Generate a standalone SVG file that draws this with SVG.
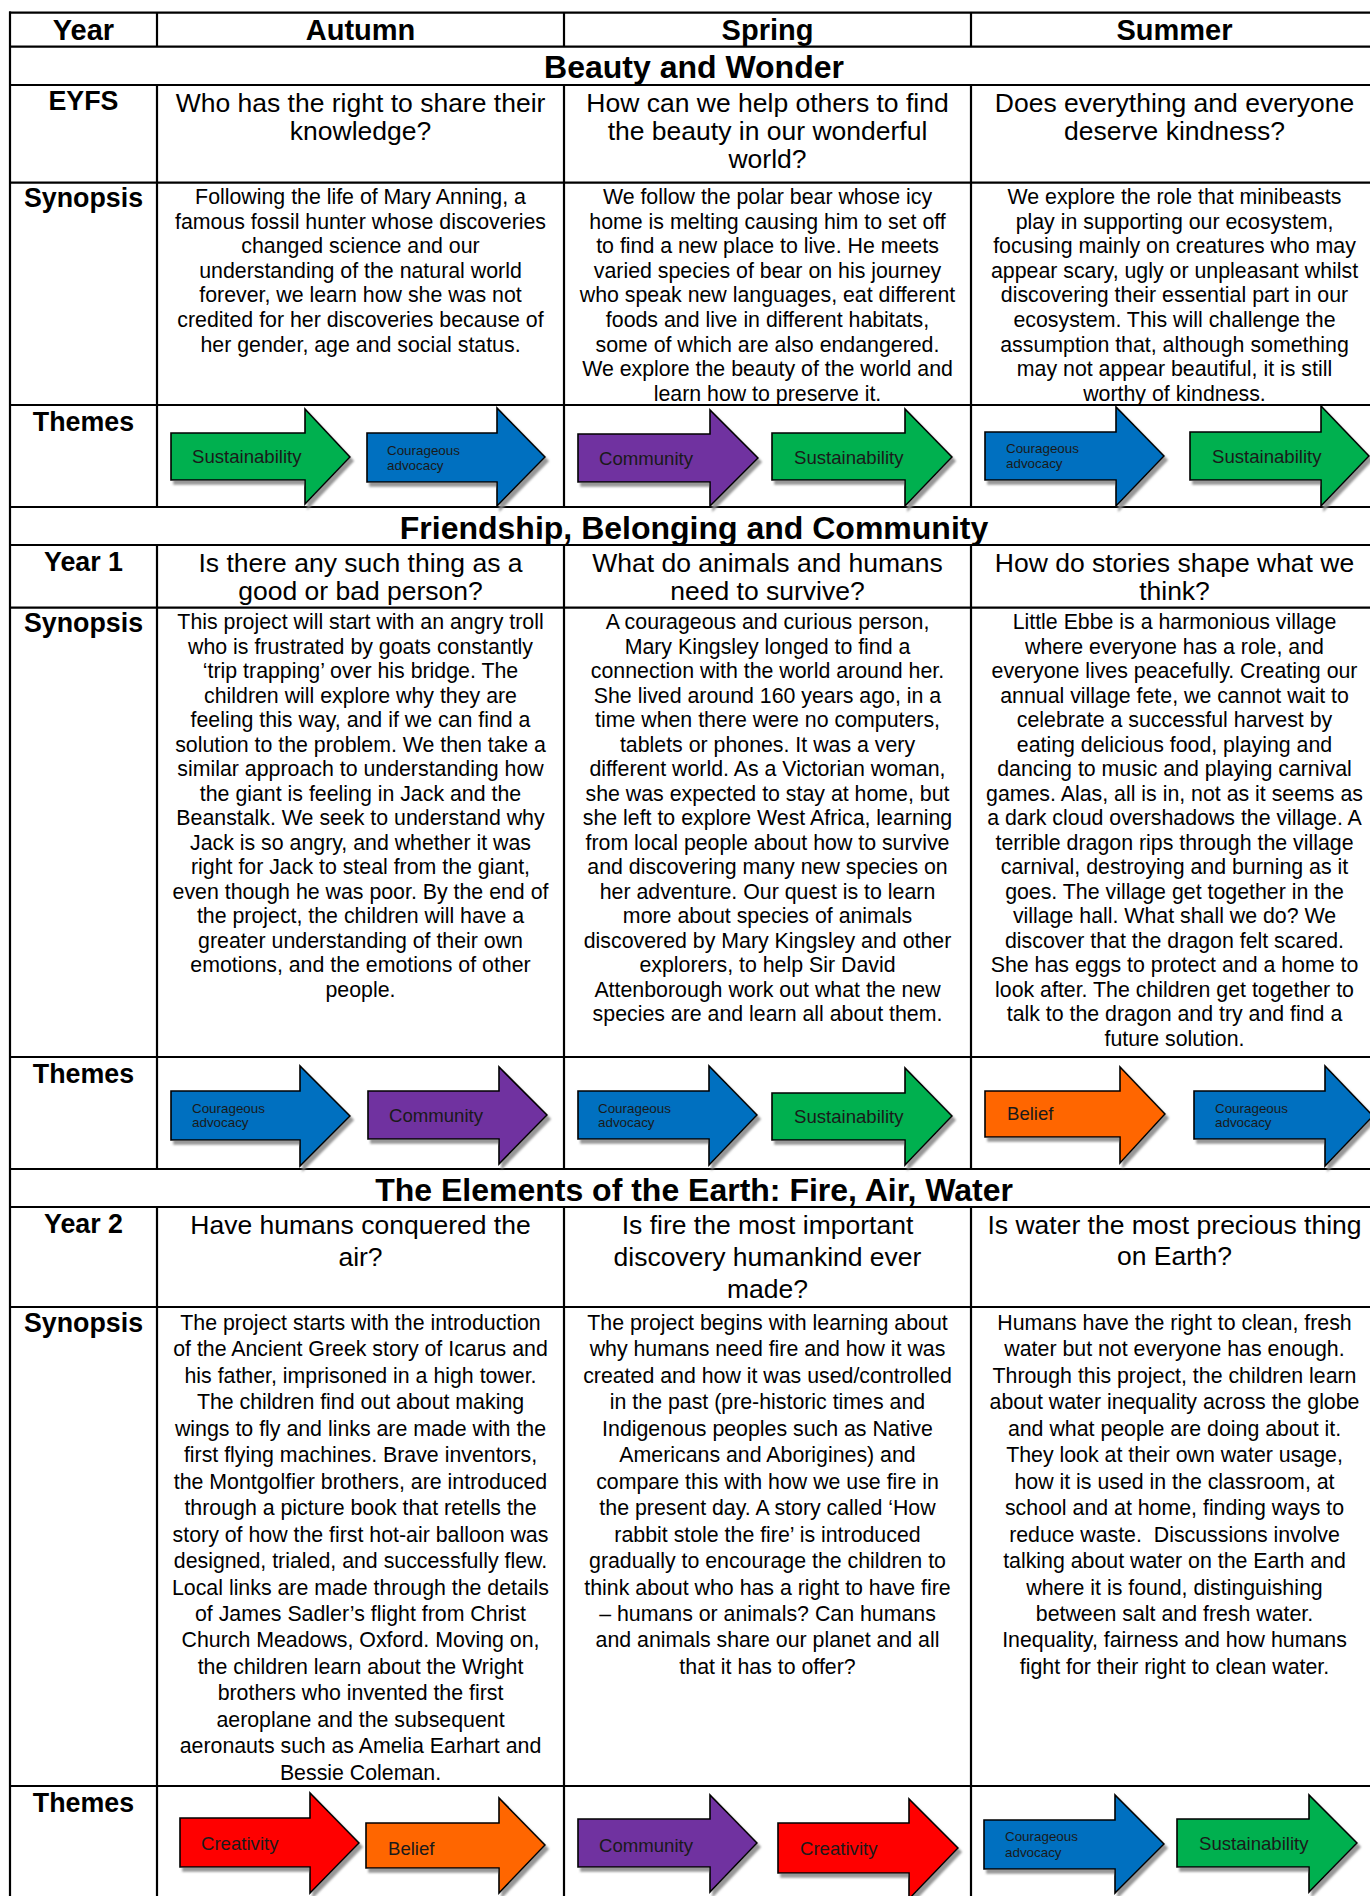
<svg xmlns="http://www.w3.org/2000/svg" width="1370" height="1896" viewBox="0 0 1370 1896">
<defs>
<filter id="sh" x="-10%" y="-10%" width="130%" height="130%">
<feDropShadow dx="3" dy="4" stdDeviation="0.8" flood-color="#8c8c8c" flood-opacity="0.9"/>
</filter>
<style>
text{font-family:"Liberation Sans",Arial,sans-serif;fill:#000}
.h{font-size:29px;font-weight:bold;text-anchor:middle}
.t{font-size:32px;font-weight:bold;text-anchor:middle}
.lb{font-size:26.8px;font-weight:bold;text-anchor:middle}
.q{font-size:26.5px;text-anchor:middle}
.s{font-size:21.33px;text-anchor:middle}
.al{font-size:18.6px;fill:#1a1a1a}
.as{font-size:13.4px;fill:#1a1a1a}
.grid line{stroke:#000;stroke-width:2.2}
.ar{stroke:#000;stroke-width:1.6;stroke-linejoin:miter;filter:url(#sh)}
.g{fill:#00B050}.b{fill:#0070C0}.p{fill:#7030A0}.o{fill:#FF6600}.r{fill:#FF0000}
</style>
</defs>
<rect width="1370" height="1896" fill="#fff"/>

<g id="grid" class="grid">
<line x1="9" y1="12.7" x2="1380" y2="12.7"/>
<line x1="9" y1="46.7" x2="1380" y2="46.7"/>
<line x1="9" y1="85" x2="1380" y2="85"/>
<line x1="9" y1="182.7" x2="1380" y2="182.7"/>
<line x1="9" y1="405" x2="1380" y2="405"/>
<line x1="9" y1="507" x2="1380" y2="507"/>
<line x1="9" y1="545" x2="1380" y2="545"/>
<line x1="9" y1="607.7" x2="1380" y2="607.7"/>
<line x1="9" y1="1057" x2="1380" y2="1057"/>
<line x1="9" y1="1169" x2="1380" y2="1169"/>
<line x1="9" y1="1207" x2="1380" y2="1207"/>
<line x1="9" y1="1307" x2="1380" y2="1307"/>
<line x1="9" y1="1786" x2="1380" y2="1786"/>
<line x1="10" y1="11.6" x2="10" y2="1900"/>
<line x1="157" y1="12.7" x2="157" y2="46.7"/>
<line x1="564" y1="12.7" x2="564" y2="46.7"/>
<line x1="971" y1="12.7" x2="971" y2="46.7"/>
<line x1="157" y1="85" x2="157" y2="507"/>
<line x1="564" y1="85" x2="564" y2="507"/>
<line x1="971" y1="85" x2="971" y2="507"/>
<line x1="157" y1="545" x2="157" y2="1169"/>
<line x1="564" y1="545" x2="564" y2="1169"/>
<line x1="971" y1="545" x2="971" y2="1169"/>
<line x1="157" y1="1207" x2="157" y2="1900"/>
<line x1="564" y1="1207" x2="564" y2="1900"/>
<line x1="971" y1="1207" x2="971" y2="1900"/>
</g>

<g id="header">
<text class="h" x="83.5" y="40">Year</text>
<text class="h" x="360.5" y="40">Autumn</text>
<text class="h" x="767.5" y="40">Spring</text>
<text class="h" x="1174.5" y="40">Summer</text>
</g>

<g id="section-beauty">
<text class="t" x="694" y="77.5">Beauty and Wonder</text>
</g>
<g id="eyfs-labels">
<text class="lb" x="83.5" y="110">EYFS</text>
<text class="lb" x="83.5" y="207">Synopsis</text>
<text class="lb" x="83.5" y="431">Themes</text>
</g>
<g id="eyfs-questions">
<text class="q" x="360.5" y="111.7"><tspan x="360.5">Who has the right to share their</tspan><tspan x="360.5" dy="28.3">knowledge?</tspan></text>
<text class="q" x="767.5" y="111.7"><tspan x="767.5">How can we help others to find</tspan><tspan x="767.5" dy="28.3">the beauty in our wonderful</tspan><tspan x="767.5" dy="28.3">world?</tspan></text>
<text class="q" x="1174.5" y="111.7"><tspan x="1174.5">Does everything and everyone</tspan><tspan x="1174.5" dy="28.3">deserve kindness?</tspan></text>
</g>
<g id="eyfs-synopsis">
<text class="s" x="360.5" y="204"><tspan x="360.5">Following the life of Mary Anning, a</tspan><tspan x="360.5" dy="24.6">famous fossil hunter whose discoveries</tspan><tspan x="360.5" dy="24.6">changed science and our</tspan><tspan x="360.5" dy="24.6">understanding of the natural world</tspan><tspan x="360.5" dy="24.6">forever, we learn how she was not</tspan><tspan x="360.5" dy="24.6">credited for her discoveries because of</tspan><tspan x="360.5" dy="24.6">her gender, age and social status.</tspan></text>
<text class="s" x="767.5" y="204"><tspan x="767.5">We follow the polar bear whose icy</tspan><tspan x="767.5" dy="24.6">home is melting causing him to set off</tspan><tspan x="767.5" dy="24.6">to find a new place to live. He meets</tspan><tspan x="767.5" dy="24.6">varied species of bear on his journey</tspan><tspan x="767.5" dy="24.6">who speak new languages, eat different</tspan><tspan x="767.5" dy="24.6">foods and live in different habitats,</tspan><tspan x="767.5" dy="24.6">some of which are also endangered.</tspan><tspan x="767.5" dy="24.6">We explore the beauty of the world and</tspan><tspan x="767.5" dy="24.6">learn how to preserve it.</tspan></text>
<text class="s" x="1174.5" y="204"><tspan x="1174.5">We explore the role that minibeasts</tspan><tspan x="1174.5" dy="24.6">play in supporting our ecosystem,</tspan><tspan x="1174.5" dy="24.6">focusing mainly on creatures who may</tspan><tspan x="1174.5" dy="24.6">appear scary, ugly or unpleasant whilst</tspan><tspan x="1174.5" dy="24.6">discovering their essential part in our</tspan><tspan x="1174.5" dy="24.6">ecosystem. This will challenge the</tspan><tspan x="1174.5" dy="24.6">assumption that, although something</tspan><tspan x="1174.5" dy="24.6">may not appear beautiful, it is still</tspan><tspan x="1174.5" dy="24.6">worthy of kindness.</tspan></text>
</g>
<g id="eyfs-themes">
<g id="t-eyfs-1"><polygon class="ar g" points="171,433 305,433 305,409 350,457 305,504 305,480 171,480"/><text class="al" x="192" y="463">Sustainability</text></g>
<g id="t-eyfs-2"><polygon class="ar b" points="367,433 497,433 497,408 545,457 497,506 497,482 367,482"/><text class="as" x="387" y="455">Courageous</text><text class="as" x="387" y="470">advocacy</text></g>
<g id="t-eyfs-3"><polygon class="ar p" points="578,434 710,434 710,410 758,458 710,506 710,482 578,482"/><text class="al" x="599" y="465">Community</text></g>
<g id="t-eyfs-4"><polygon class="ar g" points="772,433 905,433 905,409 952,457 905,506 905,480 772,480"/><text class="al" x="794" y="464">Sustainability</text></g>
<g id="t-eyfs-5"><polygon class="ar b" points="985,432 1116,432 1116,407 1164,456 1116,506 1116,480 985,480"/><text class="as" x="1006" y="453">Courageous</text><text class="as" x="1006" y="468">advocacy</text></g>
<g id="t-eyfs-6"><polygon class="ar g" points="1190,432 1321,432 1321,406 1369,456 1321,506 1321,480 1190,480"/><text class="al" x="1212" y="463">Sustainability</text></g>
</g>

<g id="section-friendship">
<text class="t" x="694" y="538.5">Friendship, Belonging and Community</text>
</g>
<g id="y1-labels">
<text class="lb" x="83.5" y="571">Year 1</text>
<text class="lb" x="83.5" y="632">Synopsis</text>
<text class="lb" x="83.5" y="1083">Themes</text>
</g>
<g id="y1-questions">
<text class="q" x="360.5" y="571.7"><tspan x="360.5">Is there any such thing as a</tspan><tspan x="360.5" dy="28.3">good or bad person?</tspan></text>
<text class="q" x="767.5" y="571.7"><tspan x="767.5">What do animals and humans</tspan><tspan x="767.5" dy="28.3">need to survive?</tspan></text>
<text class="q" x="1174.5" y="571.7"><tspan x="1174.5">How do stories shape what we</tspan><tspan x="1174.5" dy="28.3">think?</tspan></text>
</g>
<g id="y1-synopsis">
<text class="s" x="360.5" y="629"><tspan x="360.5">This project will start with an angry troll</tspan><tspan x="360.5" dy="24.5">who is frustrated by goats constantly</tspan><tspan x="360.5" dy="24.5">‘trip trapping’ over his bridge. The</tspan><tspan x="360.5" dy="24.5">children will explore why they are</tspan><tspan x="360.5" dy="24.5">feeling this way, and if we can find a</tspan><tspan x="360.5" dy="24.5">solution to the problem. We then take a</tspan><tspan x="360.5" dy="24.5">similar approach to understanding how</tspan><tspan x="360.5" dy="24.5">the giant is feeling in Jack and the</tspan><tspan x="360.5" dy="24.5">Beanstalk. We seek to understand why</tspan><tspan x="360.5" dy="24.5">Jack is so angry, and whether it was</tspan><tspan x="360.5" dy="24.5">right for Jack to steal from the giant,</tspan><tspan x="360.5" dy="24.5">even though he was poor. By the end of</tspan><tspan x="360.5" dy="24.5">the project, the children will have a</tspan><tspan x="360.5" dy="24.5">greater understanding of their own</tspan><tspan x="360.5" dy="24.5">emotions, and the emotions of other</tspan><tspan x="360.5" dy="24.5">people.</tspan></text>
<text class="s" x="767.5" y="629"><tspan x="767.5">A courageous and curious person,</tspan><tspan x="767.5" dy="24.5">Mary Kingsley longed to find a</tspan><tspan x="767.5" dy="24.5">connection with the world around her.</tspan><tspan x="767.5" dy="24.5">She lived around 160 years ago, in a</tspan><tspan x="767.5" dy="24.5">time when there were no computers,</tspan><tspan x="767.5" dy="24.5">tablets or phones. It was a very</tspan><tspan x="767.5" dy="24.5">different world. As a Victorian woman,</tspan><tspan x="767.5" dy="24.5">she was expected to stay at home, but</tspan><tspan x="767.5" dy="24.5">she left to explore West Africa, learning</tspan><tspan x="767.5" dy="24.5">from local people about how to survive</tspan><tspan x="767.5" dy="24.5">and discovering many new species on</tspan><tspan x="767.5" dy="24.5">her adventure. Our quest is to learn</tspan><tspan x="767.5" dy="24.5">more about species of animals</tspan><tspan x="767.5" dy="24.5">discovered by Mary Kingsley and other</tspan><tspan x="767.5" dy="24.5">explorers, to help Sir David</tspan><tspan x="767.5" dy="24.5">Attenborough work out what the new</tspan><tspan x="767.5" dy="24.5">species are and learn all about them.</tspan></text>
<text class="s" x="1174.5" y="629"><tspan x="1174.5">Little Ebbe is a harmonious village</tspan><tspan x="1174.5" dy="24.5">where everyone has a role, and</tspan><tspan x="1174.5" dy="24.5">everyone lives peacefully. Creating our</tspan><tspan x="1174.5" dy="24.5">annual village fete, we cannot wait to</tspan><tspan x="1174.5" dy="24.5">celebrate a successful harvest by</tspan><tspan x="1174.5" dy="24.5">eating delicious food, playing and</tspan><tspan x="1174.5" dy="24.5">dancing to music and playing carnival</tspan><tspan x="1174.5" dy="24.5">games. Alas, all is in, not as it seems as</tspan><tspan x="1174.5" dy="24.5">a dark cloud overshadows the village. A</tspan><tspan x="1174.5" dy="24.5">terrible dragon rips through the village</tspan><tspan x="1174.5" dy="24.5">carnival, destroying and burning as it</tspan><tspan x="1174.5" dy="24.5">goes. The village get together in the</tspan><tspan x="1174.5" dy="24.5">village hall. What shall we do? We</tspan><tspan x="1174.5" dy="24.5">discover that the dragon felt scared.</tspan><tspan x="1174.5" dy="24.5">She has eggs to protect and a home to</tspan><tspan x="1174.5" dy="24.5">look after. The children get together to</tspan><tspan x="1174.5" dy="24.5">talk to the dragon and try and find a</tspan><tspan x="1174.5" dy="24.5">future solution.</tspan></text>
</g>
<g id="y1-themes">
<g id="t-y1-1"><polygon class="ar b" points="171,1091 300,1091 300,1066 350,1116 300,1166 300,1140 171,1140"/><text class="as" x="192" y="1113">Courageous</text><text class="as" x="192" y="1127">advocacy</text></g>
<g id="t-y1-2"><polygon class="ar p" points="368,1091 499,1091 499,1067 547,1115 499,1164 499,1139 368,1139"/><text class="al" x="389" y="1122">Community</text></g>
<g id="t-y1-3"><polygon class="ar b" points="578,1091 709,1091 709,1066 757,1115 709,1165 709,1139 578,1139"/><text class="as" x="598" y="1113">Courageous</text><text class="as" x="598" y="1127">advocacy</text></g>
<g id="t-y1-4"><polygon class="ar g" points="772,1093 905,1093 905,1068 952,1116 905,1165 905,1140 772,1140"/><text class="al" x="794" y="1123">Sustainability</text></g>
<g id="t-y1-5"><polygon class="ar o" points="985,1091 1120,1091 1120,1067 1165,1114 1120,1163 1120,1137 985,1137"/><text class="al" x="1007" y="1120">Belief</text></g>
<g id="t-y1-6"><polygon class="ar b" points="1194,1091 1325,1091 1325,1066 1373,1116 1325,1166 1325,1139 1194,1139"/><text class="as" x="1215" y="1113">Courageous</text><text class="as" x="1215" y="1127">advocacy</text></g>
</g>

<g id="section-elements">
<text class="t" x="694" y="1201">The Elements of the Earth: Fire, Air, Water</text>
</g>
<g id="y2-labels">
<text class="lb" x="83.5" y="1233">Year 2</text>
<text class="lb" x="83.5" y="1332">Synopsis</text>
<text class="lb" x="83.5" y="1812">Themes</text>
</g>
<g id="y2-questions">
<text class="q" x="360.5" y="1234"><tspan x="360.5">Have humans conquered the</tspan><tspan x="360.5" dy="32">air?</tspan></text>
<text class="q" x="767.5" y="1234"><tspan x="767.5">Is fire the most important</tspan><tspan x="767.5" dy="32">discovery humankind ever</tspan><tspan x="767.5" dy="32">made?</tspan></text>
<text class="q" x="1174.5" y="1234"><tspan x="1174.5">Is water the most precious thing</tspan><tspan x="1174.5" dy="31">on Earth?</tspan></text>
</g>
<g id="y2-synopsis">
<text class="s" x="360.5" y="1330"><tspan x="360.5">The project starts with the introduction</tspan><tspan x="360.5" dy="26.45">of the Ancient Greek story of Icarus and</tspan><tspan x="360.5" dy="26.45">his father, imprisoned in a high tower.</tspan><tspan x="360.5" dy="26.45">The children find out about making</tspan><tspan x="360.5" dy="26.45">wings to fly and links are made with the</tspan><tspan x="360.5" dy="26.45">first flying machines. Brave inventors,</tspan><tspan x="360.5" dy="26.45">the Montgolfier brothers, are introduced</tspan><tspan x="360.5" dy="26.45">through a picture book that retells the</tspan><tspan x="360.5" dy="26.45">story of how the first hot-air balloon was</tspan><tspan x="360.5" dy="26.45">designed, trialed, and successfully flew.</tspan><tspan x="360.5" dy="26.45">Local links are made through the details</tspan><tspan x="360.5" dy="26.45">of James Sadler’s flight from Christ</tspan><tspan x="360.5" dy="26.45">Church Meadows, Oxford. Moving on,</tspan><tspan x="360.5" dy="26.45">the children learn about the Wright</tspan><tspan x="360.5" dy="26.45">brothers who invented the first</tspan><tspan x="360.5" dy="26.45">aeroplane and the subsequent</tspan><tspan x="360.5" dy="26.45">aeronauts such as Amelia Earhart and</tspan><tspan x="360.5" dy="26.45">Bessie Coleman.</tspan></text>
<text class="s" x="767.5" y="1330"><tspan x="767.5">The project begins with learning about</tspan><tspan x="767.5" dy="26.45">why humans need fire and how it was</tspan><tspan x="767.5" dy="26.45">created and how it was used/controlled</tspan><tspan x="767.5" dy="26.45">in the past (pre-historic times and</tspan><tspan x="767.5" dy="26.45">Indigenous peoples such as Native</tspan><tspan x="767.5" dy="26.45">Americans and Aborigines) and</tspan><tspan x="767.5" dy="26.45">compare this with how we use fire in</tspan><tspan x="767.5" dy="26.45">the present day. A story called ‘How</tspan><tspan x="767.5" dy="26.45">rabbit stole the fire’ is introduced</tspan><tspan x="767.5" dy="26.45">gradually to encourage the children to</tspan><tspan x="767.5" dy="26.45">think about who has a right to have fire</tspan><tspan x="767.5" dy="26.45">– humans or animals? Can humans</tspan><tspan x="767.5" dy="26.45">and animals share our planet and all</tspan><tspan x="767.5" dy="26.45">that it has to offer?</tspan></text>
<text class="s" x="1174.5" y="1330"><tspan x="1174.5">Humans have the right to clean, fresh</tspan><tspan x="1174.5" dy="26.45">water but not everyone has enough.</tspan><tspan x="1174.5" dy="26.45">Through this project, the children learn</tspan><tspan x="1174.5" dy="26.45">about water inequality across the globe</tspan><tspan x="1174.5" dy="26.45">and what people are doing about it.</tspan><tspan x="1174.5" dy="26.45">They look at their own water usage,</tspan><tspan x="1174.5" dy="26.45">how it is used in the classroom, at</tspan><tspan x="1174.5" dy="26.45">school and at home, finding ways to</tspan><tspan x="1174.5" dy="26.45">reduce waste.&#160; Discussions involve</tspan><tspan x="1174.5" dy="26.45">talking about water on the Earth and</tspan><tspan x="1174.5" dy="26.45">where it is found, distinguishing</tspan><tspan x="1174.5" dy="26.45">between salt and fresh water.</tspan><tspan x="1174.5" dy="26.45">Inequality, fairness and how humans</tspan><tspan x="1174.5" dy="26.45">fight for their right to clean water.</tspan></text>
</g>
<g id="y2-themes">
<g id="t-y2-1"><polygon class="ar r" points="180,1818 310,1818 310,1793 359,1843 310,1893 310,1867 180,1867"/><text class="al" x="201" y="1850">Creativity</text></g>
<g id="t-y2-2"><polygon class="ar o" points="366,1823 499,1823 499,1798 545,1845 499,1893 499,1868 366,1868"/><text class="al" x="388" y="1855">Belief</text></g>
<g id="t-y2-3"><polygon class="ar p" points="578,1819 710,1819 710,1795 757,1843 710,1892 710,1867 578,1867"/><text class="al" x="599" y="1852">Community</text></g>
<g id="t-y2-4"><polygon class="ar r" points="778,1823 909,1823 909,1799 958,1848 909,1899 909,1873 778,1873"/><text class="al" x="800" y="1855">Creativity</text></g>
<g id="t-y2-5"><polygon class="ar b" points="984,1820 1115,1820 1115,1795 1164,1844 1115,1893 1115,1869 984,1869"/><text class="as" x="1005" y="1841">Courageous</text><text class="as" x="1005" y="1857">advocacy</text></g>
<g id="t-y2-6"><polygon class="ar g" points="1177,1819 1309,1819 1309,1795 1357,1843 1309,1892 1309,1867 1177,1867"/><text class="al" x="1199" y="1850">Sustainability</text></g>
</g>
<g id="connectors"/>
</svg>
